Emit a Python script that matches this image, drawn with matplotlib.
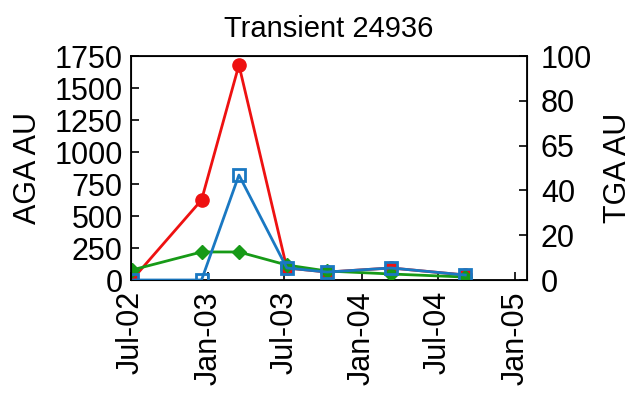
import datetime as dt
import matplotlib
matplotlib.use("Agg")
from matplotlib import pyplot as plt
import matplotlib.dates as mdates

plt.rcParams["font.family"] = ["Liberation Sans", "DejaVu Sans"]

# sampling dates
dates = [dt.date(2002, 7, 3), dt.date(2002, 12, 16), dt.date(2003, 3, 15),
         dt.date(2003, 7, 7), dt.date(2003, 10, 11), dt.date(2004, 3, 11),
         dt.date(2004, 9, 4)]

red_vals = [0, 625, 1680, 94, 62, 94, 39]
blue_vals = [0, 0, 820, 94, 62, 94, 39]
green_vals = [78, 219, 219, 117, 70, 47, 23]

left_ticks = [0, 250, 500, 750, 1000, 1250, 1500, 1750]
right_ticks = [0, 20, 40, 60, 80, 100]
right_labels = ["0", "20", "40", "65", "80", "100"]
x_ticks = [dt.date(2002, 7, 1), dt.date(2003, 1, 1), dt.date(2003, 7, 1),
           dt.date(2004, 1, 1), dt.date(2004, 7, 1), dt.date(2005, 1, 1)]

fig = plt.figure(figsize=(6.38, 3.97), dpi=100)
ax = fig.add_axes([131 / 638, 1 - 280 / 397, 396 / 638, 224 / 397])

ax.plot(dates, red_vals, color="#ee1111", lw=2, marker="o", ms=9.5,
        mfc="#ee1111", mec="#ee1111", zorder=2)
ax.plot(dates, green_vals, color="#179a17", lw=2, marker="D", ms=7,
        mfc="#179a17", mec="#179a17", zorder=3)
ax.plot(dates, blue_vals, color="#1a78c2", lw=2, marker="s", ms=9,
        mfc="none", mec="#1a78c2", mew=2, zorder=4)

ax.set_ylim(0, 1750)
ax.set_yticks(left_ticks)
ax.set_xlim(dt.date(2002, 7, 1), dt.date(2005, 1, 29))
ax.set_xticks(x_ticks)
ax.xaxis.set_major_formatter(mdates.DateFormatter("%b-%y"))
ax.tick_params(direction="in", labelsize=22, length=6, width=1.2)
ax.tick_params(axis="x", rotation=90, pad=8)
ax.tick_params(axis="y", pad=6)
ax.set_ylabel("AGA AU", fontsize=22, labelpad=8)
ax.set_title("Transient 24936", fontsize=21, pad=14)
for s in ax.spines.values():
    s.set_linewidth(1.3)

ax2 = ax.twinx()
ax2.set_ylim(0, 100)
ax2.set_yticks(right_ticks)
ax2.set_yticklabels(right_labels)
ax2.tick_params(direction="in", labelsize=22, length=6, width=1.2, pad=10)
ax2.set_ylabel("TGA AU", fontsize=22, labelpad=8)

fig.savefig("out.png", dpi=100)
